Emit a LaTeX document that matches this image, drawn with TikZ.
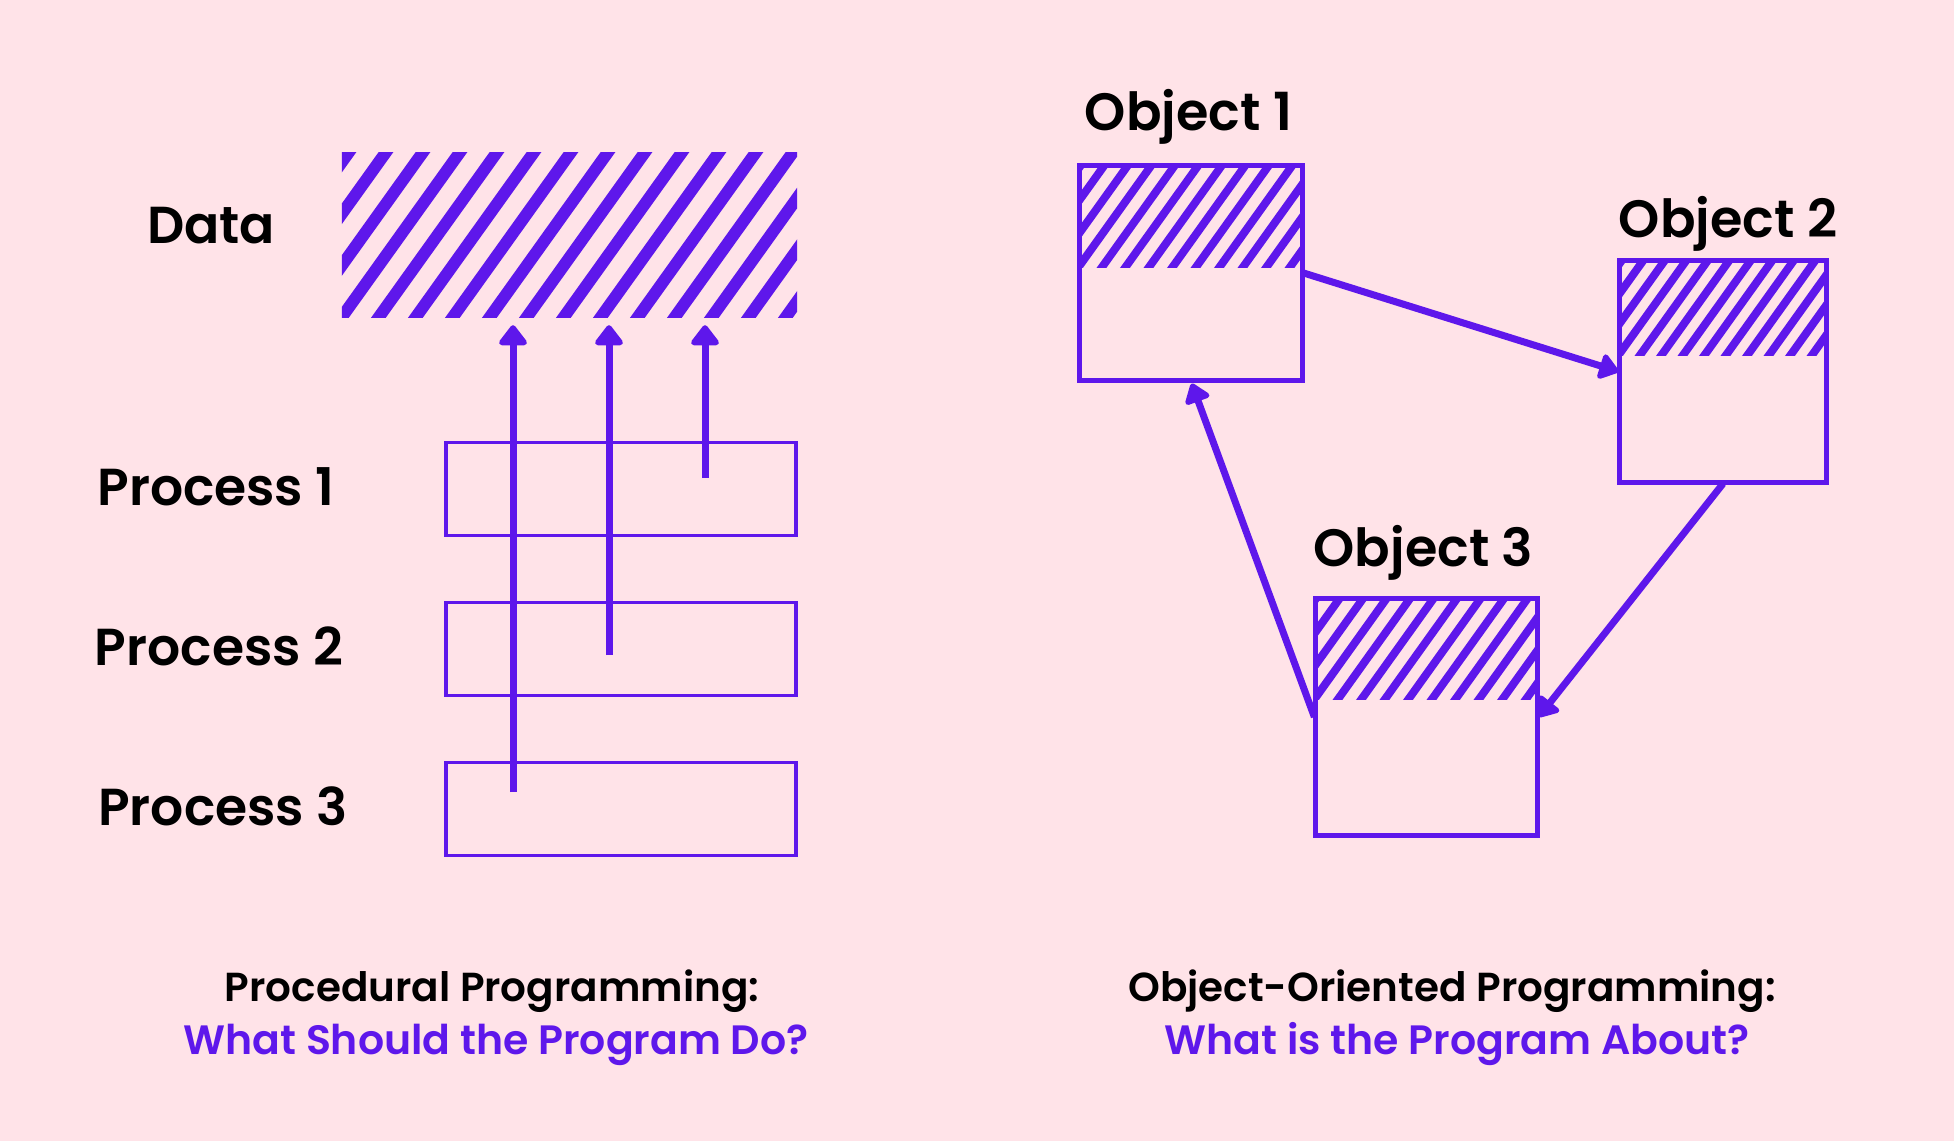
\documentclass[tikz,border=0pt]{standalone}
\usepackage{fontspec}
\IfFontExistsTF{Poppins SemiBold}{\setmainfont{Poppins}[BoldFont={Poppins SemiBold}]}{\setmainfont{Poppins}}
\usetikzlibrary{arrows.meta,positioning,calc}
\definecolor{oopurple}{HTML}{5E17EB}
\definecolor{oopink}{HTML}{FFE3E8}

% diagonal stripes inside a rectangle: corner, corner, period, stroke
\newcommand{\hatchrect}[4]{%
  \begin{scope}
    \clip (#1) rectangle (#2);
    \foreach \k in {-6,...,14}
      \draw[oopurple, line width=#4] ($(#1)+(\k*#3,0)$) ++(-200,279.4) -- ++(400,-558.8);
  \end{scope}}

\tikzset{
  lbl/.style={font=\fontsize{52}{56}\selectfont\bfseries, anchor=base, inner sep=0pt},
  objlbl/.style={font=\fontsize{52.5}{56}\selectfont\bfseries, anchor=base, inner sep=0pt},
  captop/.style={font=\fontsize{40.5}{44}\selectfont\bfseries, anchor=base, inner sep=0pt},
  capsub/.style={font=\fontsize{41}{46}\selectfont\bfseries, text=oopurple, anchor=base, inner sep=0pt},
  procbox/.style={draw=oopurple, line width=3.3pt, minimum width=350pt, minimum height=93pt, inner sep=0pt},
  objbox/.style={draw=oopurple, line width=3.3pt, inner sep=0pt},
  flow/.style={oopurple, line width=7pt, -{Triangle[width=32pt,length=22pt,round]}},
  link/.style={oopurple, line width=7pt, -{Triangle[width=29pt,length=21pt,round]}}
}

\begin{document}
\begin{tikzpicture}[x=1pt,y=-1pt]
    \fill[oopink] (0,0) rectangle (1954,1141);
    \useasboundingbox (0,0) rectangle (1954,1141);

    % Procedural side
    \node[minimum width=455pt, minimum height=164pt, inner sep=0pt] (data) at (569.5,235) {};
    \hatchrect{data.south west}{data.north east}{37}{12pt}
    \node[lbl] (datalbl) at (211,243) {Data};

    \foreach \i/\y/\x in {1/489/216, 2/649/219, 3/809/223} {
        \node[procbox] (p\i) at (621,\y) {};
        \node[lbl] (pl\i) at (\x,\y+16) {Process \i};
    }

    % Calls from the processes into the shared data
    \coordinate (s1) at (705,478);
    \coordinate (s2) at (609,655);
    \coordinate (s3) at (513,792);
    \foreach \s in {s1,s2,s3}
        \draw[flow, shorten >=8pt] (\s) -- (\s |- data.south);

    % Object-oriented side
    \node[objbox, minimum width=222pt, minimum height=214pt] (o1) at (1191,273) {};
    \node[objbox, minimum width=206pt, minimum height=221pt] (o2) at (1723,371.5) {};
    \node[objbox, minimum width=221pt, minimum height=236pt] (o3) at (1426.5,717) {};

    \coordinate (h1) at ($(o1.north west)+(0,103)$);
    \coordinate (h2) at ($(o2.north west)+(0,96)$);
    \coordinate (h3) at ($(o3.north west)+(0,102)$);
    \hatchrect{h1}{o1.north east}{23.5}{8pt}
    \hatchrect{h2}{o2.north east}{21.5}{8pt}
    \hatchrect{h3}{o3.north east}{23.5}{8pt}
    \foreach \o in {o1,o2,o3}
        \draw[oopurple, line width=3.3pt] (\o.north west) rectangle (\o.south east);

    \node[objlbl] (ol1) at (1188.5,130) {Object 1};
    \node[objlbl] (ol2) at (1728,237) {Object 2};
    \node[objlbl] (ol3) at (1423.5,566) {Object 3};

    % Messages between objects
    \draw[link] (o1.east) -- (o2.west);
    \draw[link] (o2.south) -- (o3.east);
    \draw[link, shorten >=2pt] (o3.west) -- (o1.south);

    % Captions
    \node[captop] (cap1) at (492,1001) {Procedural Programming:};
    \node[capsub] (sub1) at (496,1054) {What Should the Program Do?};
    \node[captop] (cap2) at (1452,1001) {Object-Oriented Programming:};
    \node[capsub] (sub2) at (1457,1054) {What is the Program About?};
\end{tikzpicture}
\end{document}
